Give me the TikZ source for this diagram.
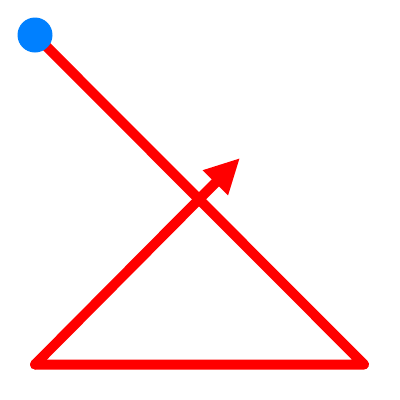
\documentclass[tikz,border=0pt]{standalone}
\usetikzlibrary{arrows.meta}
\definecolor{dotblue}{HTML}{0080FF}
\definecolor{linered}{HTML}{FF0000}
\tikzset{redline/.style={draw=linered, line width=10pt, line cap=round, line join=round}}
\begin{document}
\begin{tikzpicture}[x=1pt,y=-1pt]
\useasboundingbox (0,0) rectangle (400,400);
\coordinate (p) at (35,35);
\coordinate (r) at (364,364.5);
\coordinate (l) at (35,364.5);
\coordinate (t) at (240,158);
\draw[redline] (p) -- (r) -- (l);
\draw[redline, -{Triangle[length=35pt,width=33pt]}] (l) -- (t);
\fill[dotblue] (p) circle (17.5);
\end{tikzpicture}
\end{document}
